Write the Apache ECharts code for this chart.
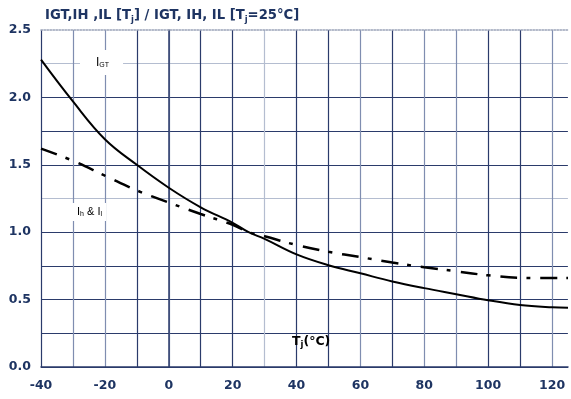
<!DOCTYPE html>
<html>
<head>
<meta charset="utf-8">
<script src="https://cdn.jsdelivr.net/npm/echarts@6/dist/echarts.min.js"></script>
<style>
  html, body { margin: 0; padding: 0; background: #fff; }
  #chart { width: 571px; height: 399px; }
</style>
</head>
<body>
<div id="chart"></div>
<script>
// junction temperature (°C)
var temps = [-40, -30, -20, -10, 0, 10, 20, 25, 30, 40, 50, 60, 70, 80, 90, 100, 110, 120, 125];
// IGT normalised to Tj = 25°C (solid)
var igt = [2.28, 1.97, 1.69, 1.50, 1.33, 1.185, 1.07, 1.0, 0.95, 0.835, 0.755, 0.695, 0.635, 0.585, 0.54, 0.495, 0.46, 0.443, 0.44];
// IH & IL normalised to Tj = 25°C (dash-dot)
var ihil = [1.62, 1.53, 1.42, 1.31, 1.22, 1.135, 1.055, 1.0, 0.97, 0.905, 0.855, 0.815, 0.775, 0.74, 0.71, 0.68, 0.662, 0.66, 0.66];

var navy = '#1e3462';
var dark = '#2b3b6b';
var light = '#b4bdd0';
var mid = '#7f8db0';
var font = 'DejaVu Sans';

var xLineColors = [dark, mid, mid, dark, mid, dark, dark, light, dark, dark, mid, dark, mid, mid, dark, dark, mid, '#fff'];
var yLineColors = [dark, dark, dark, dark, dark, light, dark, dark, dark, light, '#fff'];

function pairs(ys) {
  return temps.map(function (t, i) { return [t, ys[i]]; });
}

var chart = echarts.init(document.getElementById('chart'));
chart.setOption({
  animation: false,
  title: {
    text: '{n|IGT,IH ,IL [T}{s|j}{n|] / IGT, IH, IL [T}{s|j}{n|=25°C]}',
    left: 40,
    top: 3,
    textStyle: {
      rich: {
        n: { fontFamily: font, fontWeight: 'bold', fontSize: 13.2, color: navy },
        s: { fontFamily: font, fontWeight: 'bold', fontSize: 8.5, color: navy, padding: [7, 0, 0, 0] }
      }
    }
  },
  grid: { left: 41, right: 0, top: 30, bottom: 32 },
  xAxis: [{
    type: 'value',
    min: -40,
    max: 125,
    interval: 10,
    axisLine: { lineStyle: { color: dark, width: 1.5 } },
    axisTick: { show: false },
    axisLabel: {
      margin: 12,
      fontFamily: font,
      fontWeight: 'bold',
      fontSize: 12.5,
      color: navy,
      formatter: function (v) { return v % 20 === 0 ? String(v) : ''; }
    },
    splitLine: { show: true, lineStyle: { color: xLineColors, width: 1.2 } }
  }, {
    type: 'value',
    position: 'top',
    min: -40,
    max: 125,
    axisLine: { show: true, lineStyle: { color: '#9aa3b8', type: 'dotted', width: 1.5 } },
    axisTick: { show: false },
    axisLabel: { show: false },
    splitLine: { show: false }
  }],
  yAxis: {
    type: 'value',
    min: 0,
    max: 2.5,
    interval: 0.25,
    axisLine: { show: true, lineStyle: { color: dark, width: 1.5 } },
    axisTick: { show: false },
    axisLabel: {
      margin: 10,
      fontFamily: font,
      fontWeight: 'bold',
      fontSize: 12.5,
      color: navy,
      formatter: function (v) {
        return Math.abs(v * 2 - Math.round(v * 2)) < 1e-6 ? v.toFixed(1) : '';
      }
    },
    splitLine: { show: true, lineStyle: { color: yLineColors, width: 1.2 } }
  },
  series: [{
    name: 'IGT',
    type: 'line',
    data: pairs(igt),
    smooth: 0.4,
    symbol: 'none',
    lineStyle: { color: '#000', width: 2 },
    z: 5
  }, {
    name: 'IH & IL',
    type: 'line',
    data: pairs(ihil),
    smooth: 0.4,
    symbol: 'none',
    lineStyle: { color: '#000', width: 2.5, type: [17, 9, 4, 10] },
    z: 5
  }],
  graphic: [{
    type: 'text',
    left: 80,
    top: 50,
    z: 3,
    style: {
      text: '{n|I}{s|GT}',
      backgroundColor: '#fff',
      padding: [6, 14, 6, 16],
      rich: {
        n: { fontFamily: 'Liberation Sans', fontSize: 12, color: '#6b7a98' },
        s: { fontFamily: 'Liberation Sans', fontSize: 7, color: '#6b7a98', padding: [6, 0, 0, 0] }
      }
    }
  }, {
    type: 'text',
    left: 71,
    top: 203,
    z: 3,
    style: {
      text: '{n|I}{s|h}{n| & I}{s|l}',
      backgroundColor: '#fff',
      padding: [3, 4, 3, 6],
      rich: {
        n: { fontFamily: 'Liberation Sans', fontSize: 11, color: '#6b7a98' },
        s: { fontFamily: 'Liberation Sans', fontSize: 7, color: '#6b7a98', padding: [5, 0, 0, 0] }
      }
    }
  }, {
    type: 'text',
    left: 292,
    top: 335,
    z: 3,
    style: {
      text: '{n|T}{s|j}{n|(°C)}',
      rich: {
        n: { fontFamily: font, fontWeight: 'bold', fontSize: 12.5, color: navy },
        s: { fontFamily: font, fontWeight: 'bold', fontSize: 8.5, color: navy, padding: [7, 0, 0, 0] }
      }
    }
  }]
});
</script>
</body>
</html>
